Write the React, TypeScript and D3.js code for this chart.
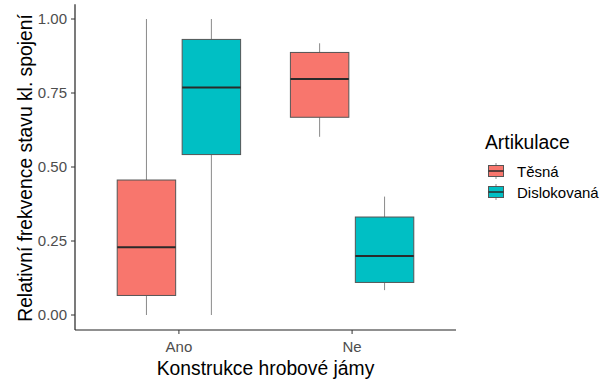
import React from 'react'
import { scaleLinear } from 'd3'

const groups = ['Ano', 'Ne']
const series = ['Těsná', 'Dislokovaná']
const colors = ['#F8766D', '#00BFC4']
const yTicks = [0, 0.25, 0.5, 0.75, 1]

// [min, q1, median, q3, max] per group, per series
const tesna = [
  [0, 0.066, 0.229, 0.456, 1.0],
  [0.602, 0.668, 0.797, 0.887, 0.918],
]
const dislokovana = [
  [0, 0.542, 0.769, 0.931, 1.0],
  [0.084, 0.11, 0.199, 0.331, 0.4],
]
const stats = [tesna, dislokovana]

const App = () => {
  const width = 603
  const height = 381
  const left = 75
  const right = 456
  const bottom = 330
  const font = 'Liberation Sans, Arial, sans-serif'

  // ggplot discrete expansion: 0.6 units on each side
  const unit = (right - left) / 2.2
  const cx = (g: string) => left + unit * (0.6 + groups.indexOf(g))
  const y = scaleLinear().domain([0, 1]).range([315, 19])
  const boxW = unit * 0.375 * 0.9

  return (
    <svg width={width} height={height} style={{ position: 'absolute', left: 0, top: 0 }}>
      <rect width={width} height={height} fill="#fff" />
      {stats.map((s, si) =>
        s.map((d, gi) => {
          const c = cx(groups[gi]) + (si === 0 ? -1 : 1) * unit * 0.1875
          return (
            <g key={si + '-' + gi}>
              <line x1={c} x2={c} y1={y(d[4])} y2={y(d[3])} stroke="#8a8a8a" strokeWidth={1} />
              <line x1={c} x2={c} y1={y(d[1])} y2={y(d[0])} stroke="#8a8a8a" strokeWidth={1} />
              <rect x={c - boxW / 2} y={y(d[3])} width={boxW} height={y(d[1]) - y(d[3])}
                fill={colors[si]} stroke="#555" strokeWidth={1} />
              <line x1={c - boxW / 2} x2={c + boxW / 2} y1={y(d[2])} y2={y(d[2])} stroke="#2a2a2a" strokeWidth={2} />
            </g>
          )
        })
      )}
      <line x1={left} x2={left} y1={y(1.05)} y2={bottom} stroke="#222" strokeWidth={1.2} />
      <line x1={left} x2={right} y1={bottom} y2={bottom} stroke="#222" strokeWidth={1.2} />
      {yTicks.map(t => (
        <g key={t}>
          <line x1={left - 4} x2={left} y1={y(t)} y2={y(t)} stroke="#333" strokeWidth={1} />
          <text x={left - 8} y={y(t)} dy="0.36em" textAnchor="end" fontSize={15} fill="#4d4d4d" fontFamily={font}>
            {t.toFixed(2)}
          </text>
        </g>
      ))}
      {groups.map(g => (
        <g key={g}>
          <line x1={cx(g)} x2={cx(g)} y1={bottom} y2={bottom + 4} stroke="#333" strokeWidth={1} />
          <text x={cx(g)} y={bottom + 22} textAnchor="middle" fontSize={15} fill="#4d4d4d" fontFamily={font}>{g}</text>
        </g>
      ))}
      <text x={(left + right) / 2} y={375} textAnchor="middle" fontSize={19.3} fill="#000" fontFamily={font}>
        Konstrukce hrobové jámy
      </text>
      <text transform={`translate(32, ${(y(0) + y(1)) / 2 + 1}) rotate(-90)`} textAnchor="middle" fontSize={19.3} fill="#000" fontFamily={font}>
        Relativní frekvence stavu kl. spojení
      </text>
      <text x={485} y={149} fontSize={19.3} fill="#000" fontFamily={font}>Artikulace</text>
      {series.map((s, i) => (
        <g key={s} transform={`translate(488, ${163 + i * 21})`}>
          <line x1={8} x2={8} y1={0} y2={16} stroke="#8a8a8a" strokeWidth={1} />
          <rect x={0.5} y={2.5} width={15} height={11} fill={colors[i]} stroke="#555" strokeWidth={1} />
          <line x1={0.5} x2={15.5} y1={8} y2={8} stroke="#2a2a2a" strokeWidth={1.5} />
          <text x={29} y={14} fontSize={15} fill="#000" fontFamily={font}>{s}</text>
        </g>
      ))}
    </svg>
  )
}

export default App
